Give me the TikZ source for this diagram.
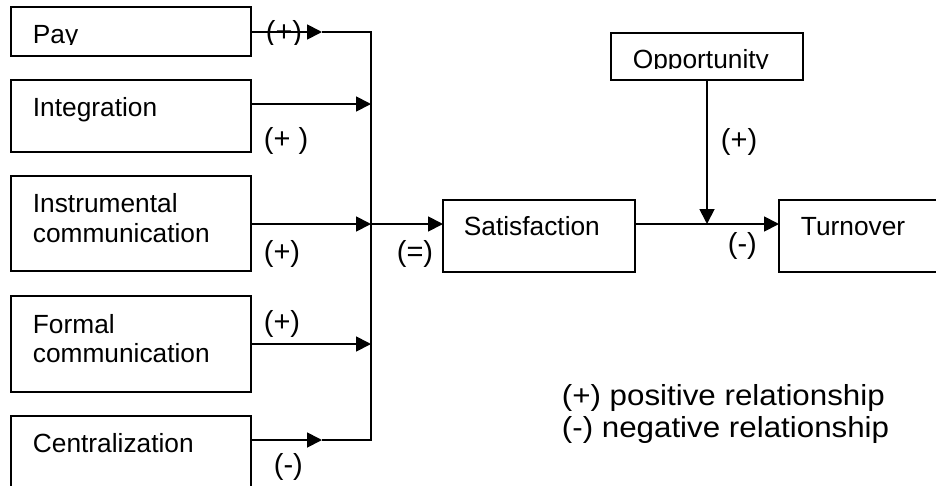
\documentclass[tikz,border=0pt]{standalone}
\usepackage{fontspec}
\setmainfont{Liberation Sans}
\newfontfamily\widesans{Liberation Sans}[FakeStretch=1.08]
\usetikzlibrary{arrows.meta}
\begin{document}
\begin{tikzpicture}[x=1pt,y=-1pt,
  line width=1.8pt,
  box/.style={draw, rectangle, anchor=north west, inner sep=0pt, outer sep=0pt},
  txt/.style={anchor=base west, inner sep=0pt, font=\fontsize{26.3}{30}\selectfont},
  sign/.style={anchor=base west, inner sep=0pt, font=\fontsize{29}{30}\selectfont},
  legend/.style={anchor=base west, inner sep=0pt, font=\widesans\fontsize{29}{32}\selectfont},
  arr/.style={-{Triangle[length=15pt,width=15pt]}}]
\useasboundingbox (0,0) rectangle (936,485);
\clip (0,0) rectangle (936,485);

% boxes
\node[box, minimum width=240pt, minimum height=49pt] (pay) at (11,7) {};
\node[box, minimum width=240pt, minimum height=72pt] (integ) at (11,80) {};
\node[box, minimum width=240pt, minimum height=95pt] (instr) at (11,176) {};
\node[box, minimum width=240pt, minimum height=96pt] (formal) at (11,296) {};
\node[box, minimum width=240pt, minimum height=90pt] (cen) at (11,416) {};
\node[box, minimum width=192pt, minimum height=72pt] (sat) at (443,200) {};
\node[box, minimum width=200pt, minimum height=72pt] (turn) at (779,200) {};
\node[box, minimum width=192pt, minimum height=47pt] (opp) at (611,33) {};

% box texts
\begin{scope}
  \clip (11,7) rectangle (251,44);
  \node[txt] (tpay) at (32,43) {Pay};
\end{scope}
\node[txt] (tinteg) at (32,116) {Integration};
\node[txt] (tinstr1) at (32,212) {Instrumental};
\node[txt] (tinstr2) at (32,242) {communication};
\node[txt] (tformal1) at (32,333) {Formal};
\node[txt] (tformal2) at (32,362) {communication};
\node[txt] (tcen) at (32,452) {Centralization};
\node[txt] (tsat) at (463,235.5) {Satisfaction};
\node[txt] (tturn) at (800,235.5) {Turnover};
\begin{scope}
  \clip (611,33) rectangle (803,68.5);
  \node[txt] (topp) at (632,68) {Opportunity};
\end{scope}

% junction points
\coordinate (bt) at (371,32);
\coordinate (bi) at (371,104);
\coordinate (bm) at (371,224);
\coordinate (bf) at (371,344);
\coordinate (bb) at (371,440);
\coordinate (tp) at (322,32);
\coordinate (tc) at (322,440);
\coordinate (jn) at (707,224);

% connectors
\draw[arr] (pay.east |- bt) -- (tp);
\draw (tp) -- (bt) -- (bb) -- (tc);
\draw[arr] (cen.east |- bb) -- (tc);
\draw[arr] (integ.east |- bi) -- (bi);
\draw[arr] (instr.east |- bm) -- (bm);
\draw[arr] (formal.east |- bf) -- (bf);
\draw[arr] (bm) -- (sat.west |- bm);
\draw[arr] (sat.east |- jn) -- (turn.west |- jn);
\draw[arr] (opp.south -| jn) -- (jn);

% relationship signs
\begin{scope}
  \clip (255,7) rectangle (320,44);
  \node[sign] (s1) at (265,41) {(+)};
\end{scope}
\node[sign] (s2) at (263,148) {(+ )};
\node[sign] (s3) at (263,261) {(+)};
\node[sign] (s4) at (396,261) {(=)};
\node[sign] (s5) at (263,331) {(+)};
\node[sign] (s6) at (273,474) {(-)};
\node[sign] (s7) at (720,149) {(+)};
\node[sign] (s8) at (727,253) {(-)};

% legend
\node[legend] (l1) at (561,405) {(+) positive relationship};
\node[legend] (l2) at (561,437) {(-) negative relationship};
\end{tikzpicture}
\end{document}
